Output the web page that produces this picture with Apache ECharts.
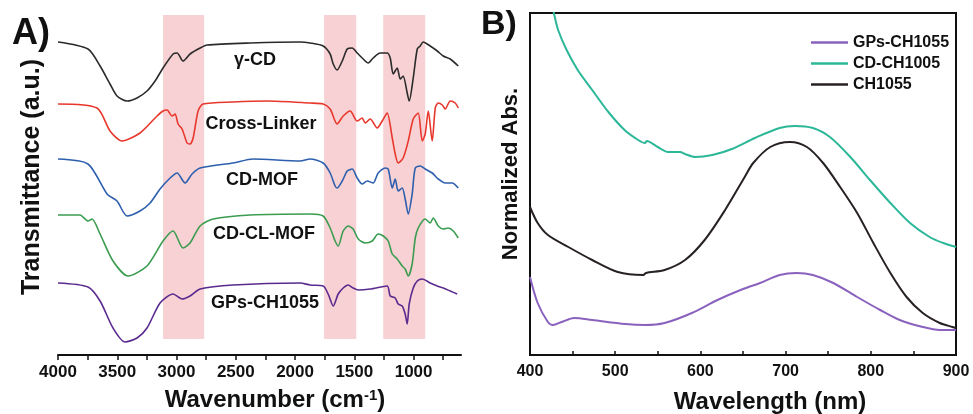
<!DOCTYPE html>
<html>
<head>
<meta charset="utf-8">
<script src="https://cdn.jsdelivr.net/npm/echarts@6/dist/echarts.min.js"></script>
<style>
  html, body { margin: 0; padding: 0; background: #fff; }
  #chart { width: 973px; height: 414px; }
</style>
</head>
<body>
<div id="chart"></div>
<script>
const FONT = "'Liberation Sans', Arial, sans-serif";

/* ---- panel A: FTIR (wavenumber, stacked transmittance a.u.) ---- */
const ftirTicks = [4000, 3500, 3000, 2500, 2000, 1500, 1000];
const ftirMinorTicks = [4000, 3750, 3500, 3250, 3000, 2750, 2500, 2250, 2000, 1750, 1500, 1250, 1000, 750];
const ftirBands = [[3114, 2767], [1755, 1484], [1256, 902]];

const gammaCD = [[4000,313],[3747,306],[3645,289],[3561,271],[3502,259],[3417,254],[3333,257],[3249,264],[3181,274],[3114,287],[3029,301],[2995,302],[2945,294],[2886,301],[2801,307],[2742,310],[2379,312],[1957,313],[1873,312],[1763,309],[1704,301],[1678,291],[1645,285],[1602,294],[1560,306],[1518,307],[1476,302],[1425,296],[1383,292],[1341,297],[1282,302],[1223,302],[1197,297],[1172,281],[1138,287],[1113,276],[1088,279],[1054,262],[1037,254],[1003,277],[969,306],[944,309],[919,313],[860,309],[800,304],[750,299],[691,296],[623,289]];
const crossLinker = [[4000,251],[3671,247],[3561,224],[3460,214],[3308,222],[3164,239],[3114,244],[3080,245],[3038,239],[3012,241],[2987,231],[2953,226],[2911,212],[2886,211],[2860,217],[2818,244],[2776,251],[2523,253],[2236,254],[1873,252],[1763,251],[1704,246],[1645,231],[1594,239],[1535,244],[1476,234],[1434,237],[1408,232],[1366,236],[1307,227],[1265,234],[1223,242],[1180,217],[1155,201],[1130,192],[1088,197],[1045,214],[1003,236],[961,242],[927,214],[902,221],[876,244],[843,214],[817,247],[792,252],[758,250],[733,246],[691,254],[649,252],[623,247]];
const cdMOF = [[4000,196],[3747,191],[3586,161],[3502,154],[3417,139],[3308,144],[3223,152],[3139,166],[3054,177],[2995,182],[2928,172],[2869,181],[2801,187],[2523,192],[2354,196],[1957,194],[1873,196],[1763,192],[1704,182],[1662,169],[1645,167],[1602,174],[1560,184],[1518,186],[1476,177],[1434,171],[1391,174],[1341,172],[1299,182],[1240,187],[1214,186],[1180,167],[1155,176],[1130,164],[1096,167],[1071,156],[1045,141],[1012,161],[986,187],[944,189],[902,186],[843,182],[792,176],[733,172],[674,172],[623,167]];
const cdCLMOF = [[4000,140],[3815,140],[3747,134],[3713,136],[3645,121],[3536,94],[3409,79],[3249,89],[3114,114],[3029,124],[2945,107],[2886,112],[2801,129],[2691,136],[2379,140],[1873,141],[1763,139],[1704,127],[1662,114],[1636,109],[1594,124],[1552,129],[1510,126],[1467,116],[1408,112],[1349,114],[1299,121],[1256,119],[1214,114],[1180,101],[1138,96],[1096,89],[1071,86],[1045,79],[1012,91],[986,117],[961,127],[902,136],[860,132],[834,137],[792,129],[750,126],[708,127],[665,124],[623,117]];
const gpsFTIR = [[4000,72],[3747,68],[3645,54],[3536,27],[3434,13],[3333,17],[3249,27],[3139,52],[3029,61],[2953,56],[2886,59],[2801,66],[2523,70],[1957,72],[1873,70],[1763,69],[1721,61],[1678,49],[1636,61],[1594,67],[1552,70],[1510,67],[1467,65],[1366,66],[1223,69],[1197,59],[1155,57],[1130,51],[1096,49],[1071,41],[1054,31],[1037,51],[1003,67],[969,74],[927,76],[860,72],[800,69],[750,67],[691,64],[632,61]];

/* ---- panel B: UV-vis-NIR (wavelength nm, normalized abs.) ---- */
const gpsAbs = [[400,78],[409,52],[421,33],[427,30],[437,33],[452,37],[473,35],[512,31],[535,30],[558,32],[590,42],[620,55],[650,66],[670,72],[693,80],[713,82],[732,80],[756,72],[784,58],[811,45],[834,35],[861,28],[881,25],[900,25]];
const cdAbs = [[420,372],[428,342],[433,325],[443,305],[456,285],[473,265],[492,243],[511,225],[527,215],[535,212],[537,214],[550,208],[562,203],[576,203],[582,201],[594,198],[614,200],[637,206],[664,217],[693,227],[711,229],[732,227],[752,218],[776,198],[799,175],[823,152],[846,132],[869,118],[885,112],[900,108]];
const chAbs = [[400,148],[409,132],[421,120],[445,108],[473,95],[503,83],[533,80],[536,82],[558,85],[582,95],[605,115],[629,145],[652,178],[662,192],[682,208],[705,213],[725,208],[744,192],[764,168],[784,142],[803,112],[823,82],[842,58],[861,42],[881,32],[896,28],[900,27]];

const chart = echarts.init(document.getElementById('chart'), null, { renderer: 'canvas' });

function ftirLine(name, data, color) {
  return {
    name, type: 'line', data, xAxisIndex: 0, yAxisIndex: 0,
    showSymbol: false, smooth: 0.25, z: 2,
    lineStyle: { color, width: 1.6 }, itemStyle: { color }
  };
}
function absLine(name, data, color) {
  return {
    name, type: 'line', data, xAxisIndex: 1, yAxisIndex: 1,
    showSymbol: false, smooth: 0.3, clip: true, z: 2,
    lineStyle: { color, width: 2 }, itemStyle: { color }
  };
}
function label(text, x, y, size, extra) {
  return Object.assign({
    type: 'text', x, y,
    style: { text, fontSize: size, fontWeight: 'bold', fontFamily: FONT, fill: '#111', align: 'center', verticalAlign: 'middle' }
  }, extra || {});
}

chart.setOption({
  backgroundColor: '#fff',
  animation: false,
  grid: [
    { left: 58, right: 512, top: 14, bottom: 59 },
    { left: 530, right: 17, top: 13, bottom: 59, show: true, borderColor: '#111', borderWidth: 2, backgroundColor: 'transparent' }
  ],
  xAxis: [
    {
      gridIndex: 0, type: 'value', min: 600, max: 4000, inverse: true,
      axisLine: { lineStyle: { color: '#111', width: 2 } },
      axisTick: { show: true, length: 5, lineStyle: { color: '#111', width: 1.5 }, customValues: ftirMinorTicks },
      axisLabel: { customValues: ftirTicks, formatter: v => String(v), margin: 9, fontSize: 17, fontWeight: 'bold', fontFamily: FONT, color: '#111' },
      splitLine: { show: false }
    },
    {
      gridIndex: 1, type: 'value', min: 400, max: 900, interval: 100,
      axisLine: { lineStyle: { color: '#111', width: 2 } },
      axisTick: { inside: true, length: 4, lineStyle: { color: '#111', width: 1.5 } },
      minorTick: { show: true, splitNumber: 2, length: 4, lineStyle: { color: '#111', width: 1.5 } },
      axisLabel: { margin: 9, fontSize: 16, fontWeight: 'bold', fontFamily: FONT, color: '#111' },
      splitLine: { show: false }
    }
  ],
  yAxis: [
    { gridIndex: 0, type: 'value', min: 0, max: 341, show: false },
    { gridIndex: 1, type: 'value', min: 0, max: 342, axisLine: { show: false }, axisTick: { show: false }, axisLabel: { show: false }, splitLine: { show: false } }
  ],
  legend: {
    data: ['GPs-CH1055', 'CD-CH1005', 'CH1055'],
    orient: 'vertical', left: 806, top: 29,
    icon: 'rect', itemWidth: 37, itemHeight: 2.5, itemGap: 4,
    selectedMode: false,
    textStyle: { fontSize: 16, fontWeight: 'bold', fontFamily: FONT, color: '#111', lineHeight: 17 }
  },
  series: [
    ftirLine('A γ-CD', gammaCD, '#2b2b2b'),
    ftirLine('A Cross-Linker', crossLinker, '#e8372c'),
    ftirLine('A CD-MOF', cdMOF, '#2d5fae'),
    ftirLine('A CD-CL-MOF', cdCLMOF, '#3b9c50'),
    ftirLine('A GPs-CH1055', gpsFTIR, '#5a2a8f'),
    {
      name: 'bands', type: 'line', data: [], xAxisIndex: 0, yAxisIndex: 0, z: 5,
      markArea: {
        silent: true,
        itemStyle: { color: 'rgba(236,140,146,0.4)' },
        data: ftirBands.map(b => [{ xAxis: b[0], yAxis: 340 }, { xAxis: b[1], yAxis: 16 }])
      }
    },
    absLine('GPs-CH1055', gpsAbs, '#8a62bd'),
    absLine('CD-CH1005', cdAbs, '#2bb798'),
    absLine('CH1055', chAbs, '#272124')
  ],
  graphic: [
    label('A)', 31, 34, 36),
    label('B)', 499, 25, 34),
    label('γ-CD', 255, 60, 18),
    label('Cross-Linker', 261, 124, 18),
    label('CD-MOF', 262, 180, 18),
    label('CD-CL-MOF', 264, 234, 18),
    label('GPs-CH1055', 265, 303, 18),
    {
      type: 'text', x: 275, y: 400,
      style: {
        text: 'Wavenumber (cm{sup|-1})', fontSize: 24, fontWeight: 'bold', fontFamily: FONT, fill: '#111',
        align: 'center', verticalAlign: 'middle',
        rich: { sup: { fontSize: 15, fontWeight: 'bold', fontFamily: FONT, fill: '#111', verticalAlign: 'top', padding: [0, 0, 9, 0] } }
      }
    },
    label('Transmittance (a.u.)', 32, 177, 25, { rotation: Math.PI / 2 }),
    label('Wavelength (nm)', 770, 402, 24),
    label('Normalized Abs.', 511, 174, 22, { rotation: Math.PI / 2 })
  ]
});
</script>
</body>
</html>
